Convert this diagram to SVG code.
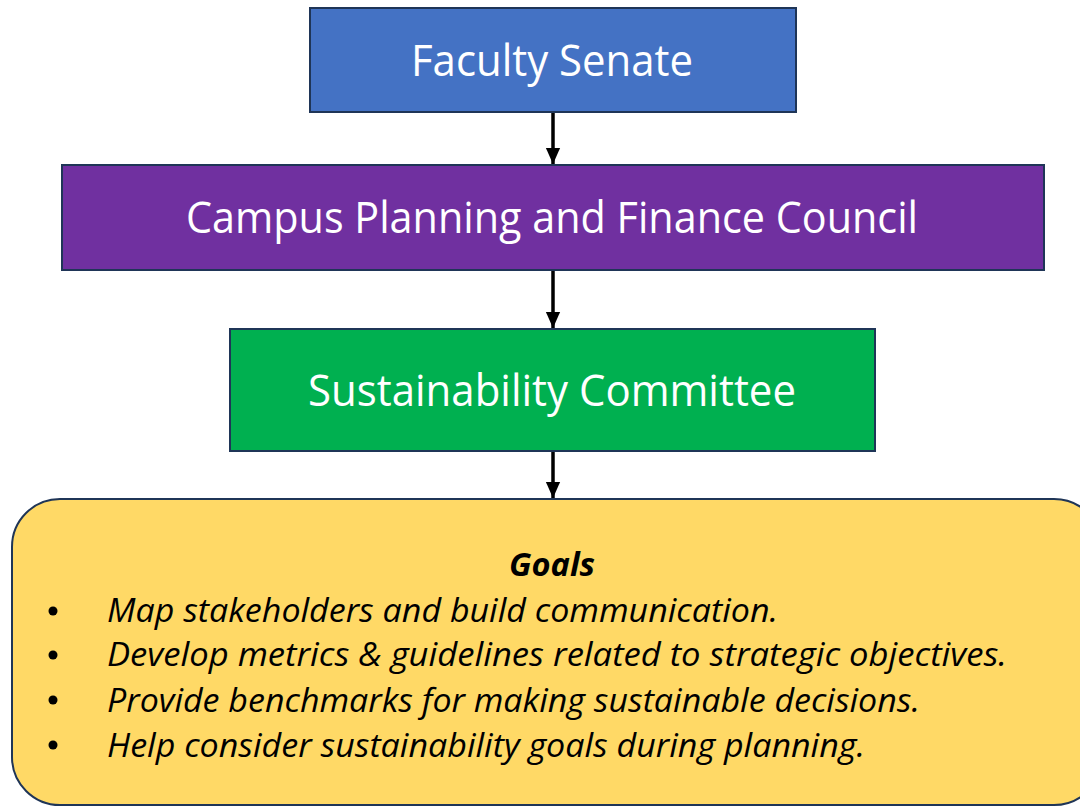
<svg xmlns="http://www.w3.org/2000/svg" width="1080" height="806" viewBox="0 0 1080 806">
<defs>
<style>
.box{stroke:#1f3557;stroke-width:2}
.t{font-family:"Open Sans","Liberation Sans",sans-serif;fill:#fff;font-size:43px;text-anchor:middle}
.g{font-family:"Open Sans","Liberation Sans",sans-serif;fill:#000;font-size:32px;font-style:italic}
.conn{stroke:#000;stroke-width:3.5;fill:none}
</style>
<marker id="ah2" markerUnits="userSpaceOnUse" markerWidth="16" markerHeight="18" refX="18" refY="8" orient="auto" viewBox="0 0 18 16">
<path d="M0,0 L18,8 L0,16 Z" fill="#000"/>
</marker>
</defs>
<rect width="1080" height="806" fill="#fff"/>
<g id="connectors">
<line class="conn" x1="553" y1="112" x2="553" y2="164" marker-end="url(#ah2)"/>
<line class="conn" x1="553" y1="270" x2="553" y2="328" marker-end="url(#ah2)"/>
<line class="conn" x1="553" y1="451" x2="553" y2="498" marker-end="url(#ah2)"/>
</g>
<g id="faculty-senate">
<rect class="box" x="310" y="8" width="486" height="104" fill="#4472c4"/>
<text class="t" x="552" y="76" textLength="282" lengthAdjust="spacingAndGlyphs">Faculty Senate</text>
</g>
<g id="campus-planning">
<rect class="box" x="62" y="165" width="982" height="105" fill="#7030a0"/>
<text class="t" x="552" y="233" textLength="732" lengthAdjust="spacingAndGlyphs">Campus Planning and Finance Council</text>
</g>
<g id="sustainability-committee">
<rect class="box" x="230" y="329" width="645" height="122" fill="#00b050"/>
<text class="t" x="552" y="406" textLength="488" lengthAdjust="spacingAndGlyphs">Sustainability Committee</text>
</g>
<g id="goals">
<rect class="box" x="12" y="499" width="1090" height="306" rx="48" ry="48" fill="#ffd966"/>
<text class="g" x="552" y="576" font-weight="bold" text-anchor="middle" textLength="86" lengthAdjust="spacingAndGlyphs">Goals</text>
<circle cx="53" cy="611" r="4.5" fill="#000"/>
<circle cx="53" cy="655" r="4.5" fill="#000"/>
<circle cx="53" cy="700" r="4.5" fill="#000"/>
<circle cx="53" cy="745" r="4.5" fill="#000"/>
<text class="g" x="107" y="622" textLength="671" lengthAdjust="spacingAndGlyphs">Map stakeholders and build communication.</text>
<text class="g" x="107" y="666" textLength="900" lengthAdjust="spacingAndGlyphs">Develop metrics &amp; guidelines related to strategic objectives.</text>
<text class="g" x="107" y="712" textLength="813" lengthAdjust="spacingAndGlyphs">Provide benchmarks for making sustainable decisions.</text>
<text class="g" x="107" y="757" textLength="758" lengthAdjust="spacingAndGlyphs">Help consider sustainability goals during planning.</text>
</g>
</svg>
